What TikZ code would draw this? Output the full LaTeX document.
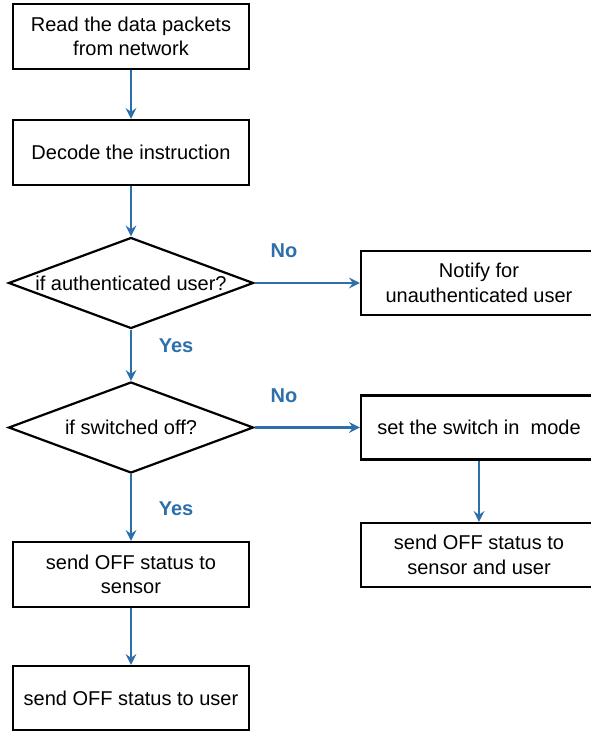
\documentclass[tikz,border=0pt]{standalone}
\usepackage{fontspec}
\setmainfont{Liberation Sans}
\usetikzlibrary{shapes.geometric,arrows.meta}
\definecolor{flowblue}{HTML}{2C6FAA}
\tikzset{
  stepbox/.style={draw=black, line width=2.2pt, rectangle, minimum width=236pt,
    minimum height=64pt, align=center, inner sep=0pt,
    font=\fontsize{20}{24.5}\selectfont},
  decision/.style={draw=black, line width=2.2pt, diamond, aspect=2.69,
    minimum width=245pt, minimum height=91pt, inner sep=0pt, align=center,
    font=\fontsize{20}{24.5}\selectfont},
  flow/.style={draw=flowblue, line width=2.2pt,
    -{Stealth[length=11pt,width=11pt,inset=4pt]}},
  answer/.style={text=flowblue, font=\fontsize{20}{22}\selectfont\bfseries}
}
\begin{document}
\begin{tikzpicture}[x=1pt,y=-1pt]
\useasboundingbox (0,0) rectangle (591,731);
\clip (0,0) rectangle (591,731);
% main column
\node[stepbox, minimum height=65pt] (read) at (131,36.5) {Read the data packets\\from network};
\node[stepbox, minimum height=65pt] (decode) at (131,152.5) {Decode the instruction};
\node[decision] (auth) at (131,283) {if authenticated user?};
\node[decision] (off) at (131,427.5) {if switched off?};
\node[stepbox, minimum height=65pt] (sensor) at (131,574.5) {send OFF status to\\sensor};
\node[stepbox] (user) at (131,698) {send OFF status to user};
% right column
\node[stepbox] (notify) at (479,283) {Notify for\\unauthenticated user};
\node[stepbox] (setmode) at (479,427.5) {set the switch in\ \ mode};
\node[stepbox] (both) at (479,555) {send OFF status to\\sensor and user};
% connectors
\draw[flow] (read) -- (decode);
\draw[flow] (decode) -- (auth);
\draw[flow] (auth.east) -- (notify.west);
\draw[flow] (auth.south) -- (off.north);
\draw[flow] (off.east) -- (setmode.west);
\draw[flow] (off.south) -- (sensor.north);
\draw[flow] (sensor) -- (user);
\draw[flow] (setmode) -- (both);
% branch labels
\node[answer] (no1) at (284,251) {No};
\node[answer] (yes1) at (176,346) {Yes};
\node[answer] (no2) at (284,396) {No};
\node[answer] (yes2) at (176,509) {Yes};
\end{tikzpicture}
\end{document}
